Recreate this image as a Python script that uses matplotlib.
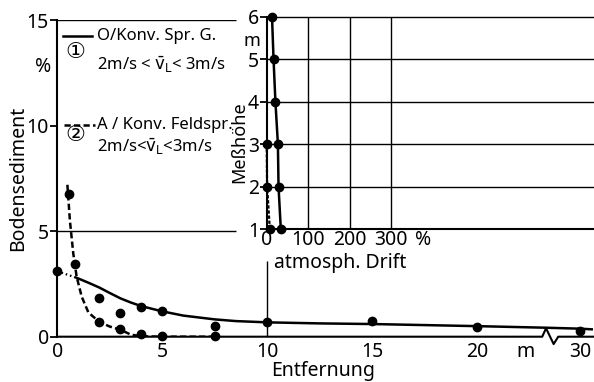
import numpy as np
import matplotlib
matplotlib.use('Agg')
import matplotlib.pyplot as plt
from matplotlib.lines import Line2D

plt.rcParams['font.family'] = ['Noto Sans', 'DejaVu Sans', 'Noto Sans CJK JP']
plt.rcParams['mathtext.fontset'] = 'dejavusans'

# Bodensediment (%) ueber Entfernung (m)
dist_1 = [0, 2, 3, 4, 5, 7.5, 10, 15, 20, 30]
sed_1 = [3.1, 1.85, 1.1, 1.4, 1.2, 0.5, 0.68, 0.76, 0.47, 0.27]
dist_2 = [0.55, 0.85, 2, 3, 4, 5, 7.5]
sed_2 = [6.75, 3.45, 0.7, 0.35, 0.15, 0.02, 0.02]

# Ausgleichskurven
fit1_x = [0.9, 1.5, 2, 2.5, 3, 3.5, 4, 5, 6, 7.5, 8.5, 10, 12.5, 15, 20, 25, 30, 31.5]
fit1_y = [2.8, 2.55, 2.33, 2.07, 1.82, 1.62, 1.45, 1.2, 1.0, 0.82, 0.74, 0.68, 0.63, 0.6, 0.5, 0.43, 0.38, 0.35]
fit1_start_x = [0, 0.9]
fit1_start_y = [3.1, 2.8]
fit2_x = [0.48, 0.6, 0.76, 0.92, 1.16, 1.48, 2.0, 2.5, 3.0, 3.5, 4, 5, 7.5]
fit2_y = [7.2, 5.5, 3.95, 2.85, 1.9, 1.15, 0.7, 0.48, 0.33, 0.1, 0.02, 0.0, 0.0]

# atmosph. Drift (%) ueber Messhoehe (m)
height = [1, 2, 3, 4, 5, 6]
drift_1 = [34, 28.5, 27, 21, 16.5, 12.8]
height_2 = [1, 2, 3]
drift_2 = [7.5, 1, 0]

xticks = [0, 5, 10, 15, 20, 22.8, 30]
xticklabels = ['0', '5', '10', '15', '20', 'm', '30']
yticks = [0, 5, 10, 15]
inset_xticks = [0, 100, 200, 300]
inset_yticks = [1, 2, 3, 4, 5, 6]

# Achsenbruch
break_x = [0, 25.0, 25.5, 26.5, 27.1, 31.8]
break_y = [0, 0, 0.4, -0.35, 0, 0]

W, H = 594, 382
FS = 14
FL = 12


def fwd(x):
    x = np.asarray(x, float)
    return np.where(x <= 22, x, 22 + (x - 22) * 0.3625)


def inv(x):
    x = np.asarray(x, float)
    return np.where(x <= 22, x, 22 + (x - 22) / 0.3625)


def fx(px):
    return px / W


def fy(py):
    return 1 - py / H


fig = plt.figure(figsize=(W / 100, H / 100), dpi=100)
ax = fig.add_axes([fx(57.3), fy(336.7), fx(594 - 57.3), (336.7 - 20.2) / H])
ax.set_xscale('function', functions=(fwd, inv))
ax.set_xlim(0, 31.8)
ax.set_ylim(0, 15)

for s in ['top', 'right', 'bottom']:
    ax.spines[s].set_visible(False)
ax.spines['left'].set_linewidth(1.5)

ax.plot(break_x, break_y, color='black', lw=1.5, clip_on=False)
ax.hlines([5, 15], 0, 8.5, color='black', lw=1.0)
ax.vlines(10, 0, 3.6, color='black', lw=1.0)

ax.plot(fit1_start_x, fit1_start_y, color='black', lw=1.6, ls=(0, (0.7, 1.3)))
ax.plot(fit1_x, fit1_y, color='black', lw=1.8, clip_on=False)
ax.plot(fit2_x, fit2_y, color='black', lw=1.8, ls=(0, (2.5, 1.3)))
ax.plot(dist_1, sed_1, 'o', color='black', ms=6, clip_on=False)
ax.plot(dist_2, sed_2, 'o', color='black', ms=6, clip_on=False)

ax.set_xticks(xticks)
ax.set_xticklabels(xticklabels)
ax.set_yticks(yticks)
ax.tick_params(axis='x', length=0, pad=4, labelsize=FS)
ax.tick_params(axis='y', length=5, width=1.3, pad=1, labelsize=FS)

fig.text(fx(18), fy(178), 'Bodensediment', rotation=90, ha='center', va='center', fontsize=FS)
fig.text(fx(43), fy(67), '%', ha='center', va='center', fontsize=FS)
fig.text(fx(323), fy(371), 'Entfernung', ha='center', va='center', fontsize=FS)

# Legende
fig.add_artist(Line2D([fx(63), fx(92)], [fy(36), fy(36)], color='black', lw=1.8))
fig.add_artist(Line2D([fx(64), fx(95)], [fy(125), fy(125)], color='black', lw=1.8, ls=(0, (2.5, 1.3))))
fig.text(fx(97), fy(36), 'O/Konv. Spr. G.', ha='left', va='center', fontsize=FL)
fig.text(fx(75), fy(52), '①', ha='center', va='center', fontsize=16, family='DejaVu Sans')
fig.text(fx(97), fy(65), r'2m/s < $\bar{\mathrm{v}}_\mathrm{L}$< 3m/s', ha='left', va='center', fontsize=FL)
fig.text(fx(97), fy(125), 'A / Konv. Feldspr.', ha='left', va='center', fontsize=FL)
fig.text(fx(75), fy(135), '②', ha='center', va='center', fontsize=16, family='DejaVu Sans')
fig.text(fx(97), fy(147), r'2m/s<$\bar{\mathrm{v}}_\mathrm{L}$<3m/s', ha='left', va='center', fontsize=FL)

# Einsatz: atmosph. Drift
ins = fig.add_axes([fx(266.7), fy(229), fx(594 - 266.7), (229 - 16.7) / H])
ins.set_xlim(0, 789)
ins.set_ylim(1, 6)
ins.patch.set_alpha(0)
for s in ['top', 'right']:
    ins.spines[s].set_visible(False)
ins.spines['left'].set_linewidth(1.5)
ins.spines['bottom'].set_linewidth(1.5)
ins.hlines(inset_yticks[1:], 0, 789, color='black', lw=1.0, clip_on=False)
ins.vlines(inset_xticks[1:], 1, 6, color='black', lw=1.0)
ins.plot(drift_1, height, '-o', color='black', lw=1.8, ms=6, clip_on=False)
ins.plot(drift_2, height_2, 'o', color='black', ms=6, clip_on=False)
ins.plot(drift_2, height_2, color='black', lw=1.6, ls=(0, (1.5, 0.8)), clip_on=False)
ins.set_xticks(inset_xticks)
ins.set_yticks(inset_yticks)
ins.tick_params(axis='x', length=0, pad=1, labelsize=FS)
ins.tick_params(axis='y', length=5, width=1.3, pad=0.5, labelsize=FS)
ins.text(378, 0.97, '%', transform=ins.transData, ha='center', va='top', fontsize=FS)
fig.text(fx(340), fy(263), 'atmosph. Drift', ha='center', va='center', fontsize=FS)
fig.text(fx(239), fy(141.7), 'Meßhöhe', rotation=90, ha='center', va='center', fontsize=13)
fig.text(fx(252), fy(41), 'm', ha='center', va='center', fontsize=13)

fig.savefig('out.png', dpi=100)
